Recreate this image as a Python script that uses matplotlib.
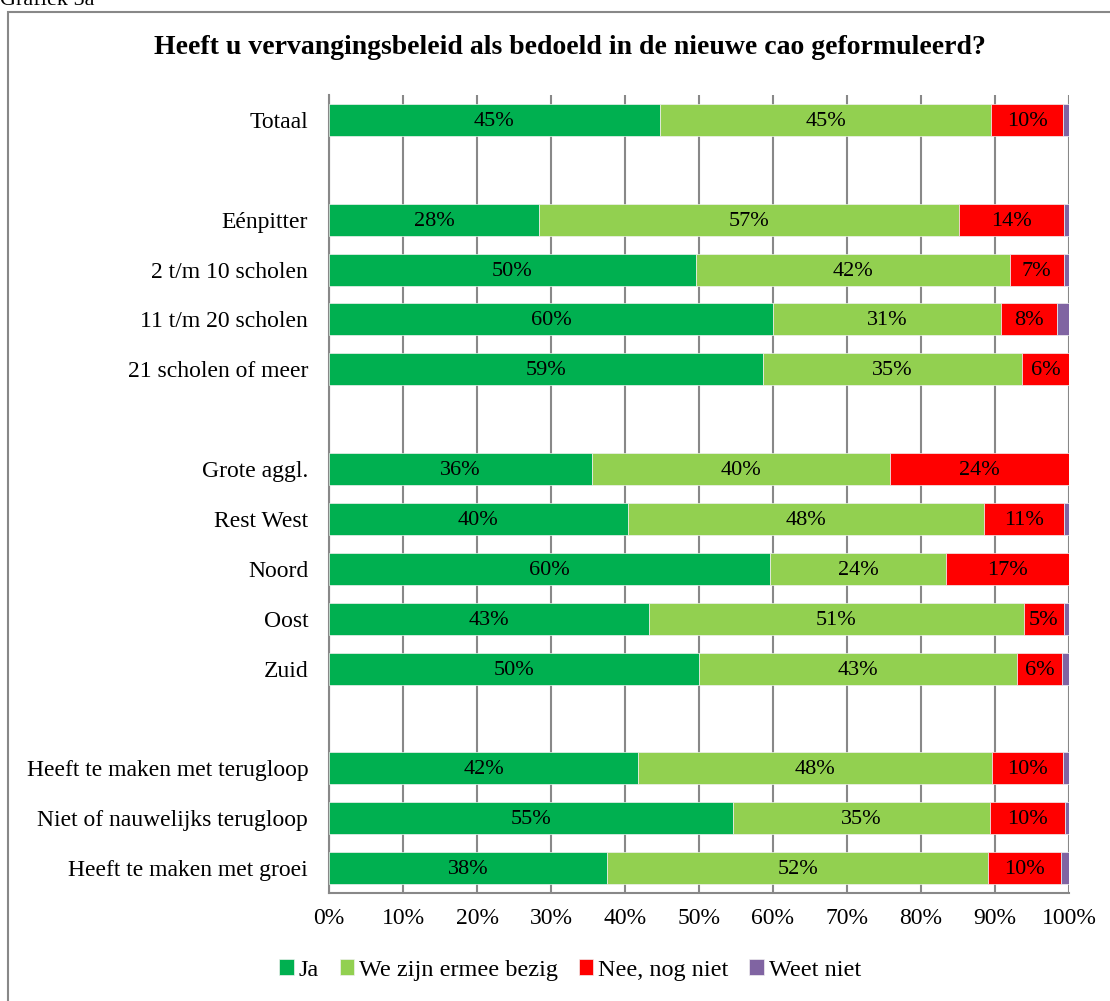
import numpy as np
import matplotlib.pyplot as plt
from matplotlib.patches import Rectangle

plt.rcParams['font.family'] = ['Liberation Serif', 'DejaVu Serif']
plt.rcParams['font.size'] = 17

# categories, top to bottom ('' = empty spacer row)
categories = ['Totaal', '',
              'Eénpitter', '2 t/m 10 scholen', '11 t/m 20 scholen', '21 scholen of meer', '',
              'Grote aggl.', 'Rest West', 'Noord', 'Oost', 'Zuid', '',
              'Heeft te maken met terugloop', 'Niet of nauwelijks terugloop', 'Heeft te maken met groei']

ja =   [44.7, 0, 28.4, 49.6, 60.0, 58.6, 0, 35.6, 40.4, 59.6, 43.2, 50.0, 0, 41.8, 54.6, 37.6]
bezig = [44.8, 0, 56.7, 42.4, 30.8, 35.0, 0, 40.2, 48.1, 23.8, 50.7, 43.0, 0, 47.8, 34.7, 51.5]
nee =  [9.7, 0, 14.2, 7.3, 7.6, 6.4, 0, 24.2, 10.8, 16.6, 5.4, 6.1, 0, 9.6, 10.2, 9.8]
weet = [0.8, 0, 0.7, 0.7, 1.6, 0.0, 0, 0.0, 0.7, 0.0, 0.7, 0.9, 0, 0.8, 0.5, 1.1]

series = [ja, bezig, nee, weet]
names = ['Ja', 'We zijn ermee bezig', 'Nee, nog niet', 'Weet niet']
colors = ['#00B050', '#92D050', '#FF0000', '#8064A2']
show_label = [True, True, True, False]

fig = plt.figure(figsize=(11.1, 10.01), dpi=100)
ax = fig.add_axes([329/1110, 1 - 893/1001, 740/1110, 798/1001])

y = np.arange(len(categories))
left = np.zeros(len(categories))
for vals, name, col, lab in zip(series, names, colors, show_label):
    vals = np.array(vals)
    m = vals > 0
    ax.barh(y[m], vals[m], left=left[m], height=0.64, color=col, label=name,
            edgecolor='#f0f0f0', linewidth=0.5, zorder=3)
    if lab:
        for yi, v, l in zip(y[m], vals[m], left[m]):
            ax.text(l + v / 2, yi + 0.03, f'{v:.0f}%', ha='center', va='center',
                    fontsize=16, zorder=4)
    left += vals

ax.set_xlim(0, 100)
ax.set_ylim(len(categories) - 0.5, -0.5)
ax.set_yticks(y)
ax.set_yticklabels(categories)
ax.set_xticks(np.arange(0, 101, 10))
ax.set_xticklabels([f'{t}%' for t in range(0, 101, 10)])
ax.tick_params(length=0)
ax.tick_params(axis='y', pad=15)
ax.tick_params(axis='x', pad=11)
ax.xaxis.grid(True, color='#888888', linewidth=1.5, zorder=0)
for s in ['top', 'right']:
    ax.spines[s].set_visible(False)
for s in ['left', 'bottom']:
    ax.spines[s].set_color('#888888')
    ax.spines[s].set_linewidth(1.5)

fig.text(570/1110, 1 - 47/1001, 'Heeft u vervangingsbeleid als bedoeld in de nieuwe cao geformuleerd?',
         ha='center', va='center', fontsize=20, fontweight='bold')

fig.text(0.0, 1 - 5/1001, 'Grafiek 5a', ha='left', va='baseline', fontsize=16)

fig.patches.append(Rectangle((8/1110, -0.01), 1.1, 1 - 12/1001 + 0.01,
                             transform=fig.transFigure, fill=False,
                             edgecolor='#888888', linewidth=1.5))

fig.legend(loc='center', bbox_to_anchor=(570/1110, 1 - 970/1001), ncol=4,
           frameon=False, handlelength=0.6, handleheight=0.6, handletextpad=0.2,
           columnspacing=0.85, fontsize=17.5)

fig.savefig('out.png', dpi=100)
